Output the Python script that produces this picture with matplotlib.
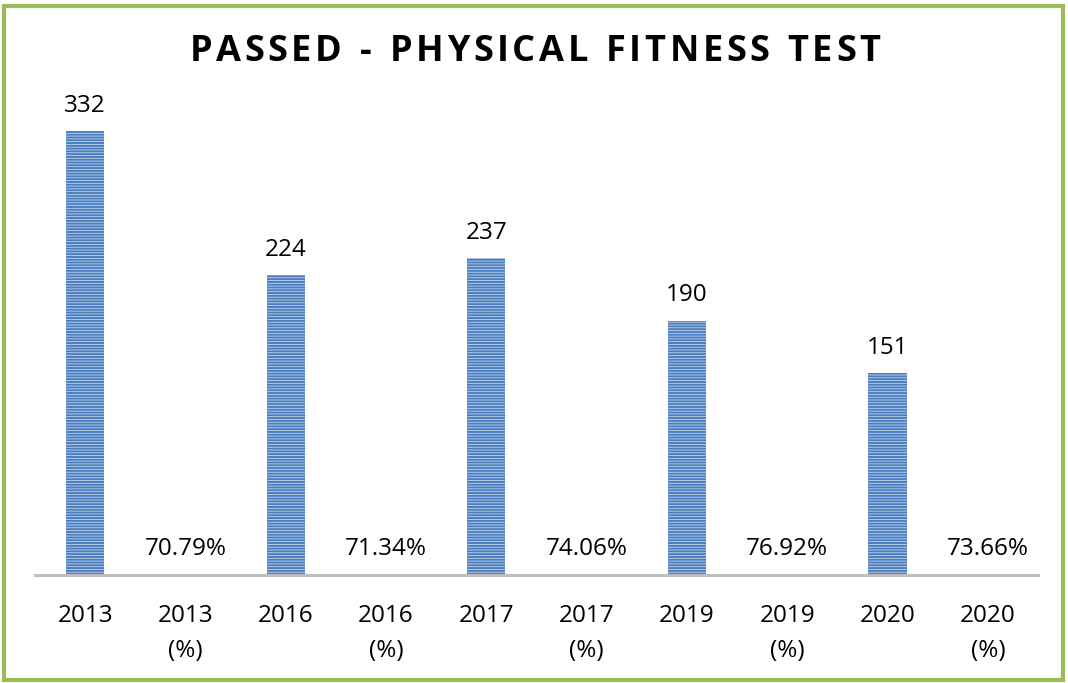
"""Passed - physical fitness test bar chart."""

import matplotlib.pyplot as plt
from matplotlib.patches import Rectangle

CATEGORIES = [
    "2013", "2013\n(%)", "2016", "2016\n(%)", "2017",
    "2017\n(%)", "2019", "2019\n(%)", "2020", "2020\n(%)",
]
VALUES = [332, 0.7079, 224, 0.7134, 237, 0.7406, 190, 0.7692, 151, 0.7366]
LABELS = ["332", "70.79%", "224", "71.34%", "237", "74.06%", "190", "76.92%", "151", "73.66%"]
TITLE = "PASSED - PHYSICAL FITNESS TEST"

plt.rcParams["font.family"] = ["Open Sans", "DejaVu Sans"]
plt.rcParams["hatch.linewidth"] = 1.4

W, H = 1068, 683
fig = plt.figure(figsize=(W / 100, H / 100), dpi=100)
ax = fig.add_axes([35 / W, (H - 575) / H, (1038 - 35) / W, (575 - 100.3) / H])

x = range(len(CATEGORIES))
ax.bar(
    x, VALUES, width=0.38, color="#C4D5EC", edgecolor="#4A7EC0",
    hatch="------", linewidth=0,
)
for xi, v, lab in zip(x, VALUES, LABELS):
    ax.annotate(lab, (xi, v), xytext=(0, 14), textcoords="offset points",
                ha="center", va="baseline", fontsize=17.5)

ax.set_xlim(-0.5, len(CATEGORIES) - 0.5)
ax.set_ylim(0, 355)
ax.set_xticks(list(x))
ax.set_xticklabels(CATEGORIES, fontsize=17.5, linespacing=1.6)
ax.tick_params(axis="x", length=0, pad=21)
ax.set_yticks([])
for side in ("left", "right", "top"):
    ax.spines[side].set_visible(False)
ax.spines["bottom"].set_color("#BFBFBF")
ax.spines["bottom"].set_linewidth(2.2)

# title with letter spacing: lay out one character at a time
renderer = fig.canvas.get_renderer()
tracking = 3.6
title_size = 26
chars = []
widths = []
for ch in TITLE:
    t = fig.text(0, 0, ch if ch != " " else "I", fontsize=title_size,
                 fontweight="bold", va="center")
    w = t.get_window_extent(renderer).width
    if ch == " ":
        t.set_text(" ")
        w *= 0.9
    chars.append(t)
    widths.append(w)
total = sum(widths) + tracking * (len(TITLE) - 1)
left = 535 - total / 2
for t, w in zip(chars, widths):
    t.set_position((left / W, 1 - 52 / H))
    left += w + tracking

fig.patches.append(Rectangle((4 / W, 3 / H), 1059 / W, (677 - 3) / H,
                             transform=fig.transFigure, fill=False,
                             edgecolor="#9BBB59", linewidth=3))

fig.savefig("out.png", dpi=100)
